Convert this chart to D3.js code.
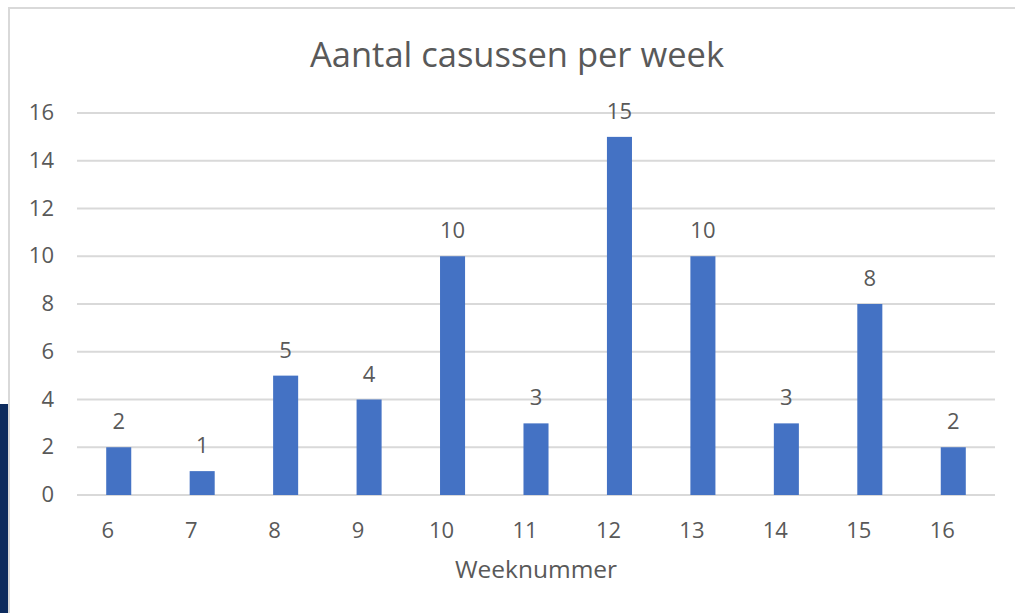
<!DOCTYPE html>
<html>
<head>
<meta charset="utf-8">
<script src="https://cdn.jsdelivr.net/npm/d3@7"></script>
<style>
  body { margin: 0; background: #fff; }
  svg text { font-family: "Open Sans", "Noto Sans", sans-serif; fill: #595959; }
</style>
</head>
<body>
<div id="chart"></div>
<script>
var weeks = [6, 7, 8, 9, 10, 11, 12, 13, 14, 15, 16];
var casussen = [2, 1, 5, 4, 10, 3, 15, 10, 3, 8, 2];
var yTicks = [0, 2, 4, 6, 8, 10, 12, 14, 16];
var title = 'Aantal casussen per week';
var xTitle = 'Weeknummer';

var width = 1015, height = 613;

var svg = d3.select('#chart').append('svg')
    .attr('width', width)
    .attr('height', height);

// dark strip of the slide behind the chart
svg.append('rect')
    .attr('x', 0).attr('y', 404)
    .attr('width', 8).attr('height', height - 404)
    .style('fill', '#0d2b5e');

// chart frame
svg.append('path')
    .attr('d', 'M9,' + height + ' L9,8 L' + width + ',8')
    .style('fill', 'none')
    .style('stroke', '#d9d9d9')
    .style('stroke-width', 2);

var xScale = d3.scaleBand()
    .domain(weeks)
    .range([77, 995])
    .paddingInner(0.7)
    .paddingOuter(0.35);

var yScale = d3.scaleLinear()
    .domain([0, 16])
    .range([495, 113]);

var grid_g = svg.append('g');
grid_g.selectAll('line')
    .data(yTicks)
    .enter().append('line')
    .attr('x1', 77)
    .attr('x2', 995)
    .attr('y1', function(d) { return yScale(d); })
    .attr('y2', function(d) { return yScale(d); })
    .style('stroke', '#d9d9d9')
    .style('stroke-width', 2);

var yAxis = svg.append('g')
    .attr('transform', 'translate(54,0)')
    .call(d3.axisLeft(yScale).tickValues(yTicks).tickSize(0).tickPadding(0));
yAxis.select('.domain').remove();
yAxis.selectAll('text')
    .style('font-size', '22px')
    .attr('dy', '0.3em');

// category labels sit a little left of the bar centres
var xAxis = svg.append('g')
    .attr('transform', 'translate(-11,538)')
    .call(d3.axisBottom(xScale).tickSize(0).tickPadding(0));
xAxis.select('.domain').remove();
xAxis.selectAll('text')
    .style('font-size', '22px')
    .attr('dy', '0');

var bars_g = svg.append('g');
bars_g.selectAll('rect')
    .data(casussen)
    .enter().append('rect')
    .attr('x', function(d, i) { return xScale(weeks[i]); })
    .attr('y', function(d) { return yScale(d); })
    .attr('width', xScale.bandwidth())
    .attr('height', function(d) { return yScale(0) - yScale(d); })
    .style('fill', '#4472c4');

bars_g.selectAll('text')
    .data(casussen)
    .enter().append('text')
    .attr('x', function(d, i) { return xScale(weeks[i]) + xScale.bandwidth() / 2; })
    .attr('y', function(d) { return yScale(d) - 18; })
    .attr('text-anchor', 'middle')
    .style('font-size', '22px')
    .text(function(d) { return d; });

svg.append('text')
    .attr('x', 517)
    .attr('y', 67)
    .attr('text-anchor', 'middle')
    .style('font-size', '34.5px')
    .text(title);

svg.append('text')
    .attr('x', 536)
    .attr('y', 578)
    .attr('text-anchor', 'middle')
    .style('font-size', '24.5px')
    .text(xTitle);
</script>
</body>
</html>
